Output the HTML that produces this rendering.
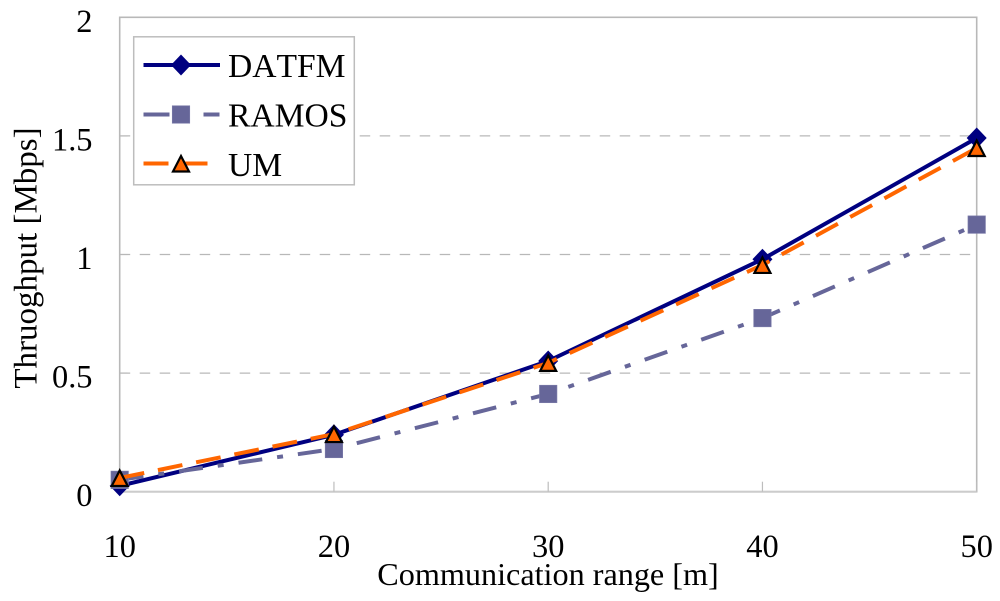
<!DOCTYPE html>
<html>
<head>
<meta charset="utf-8">
<title>Throughput vs communication range</title>
<style>
html,body{margin:0;padding:0;background:#fff;}
svg{display:block;filter:blur(0.35px);}
text{font-family:"Liberation Serif",serif;font-size:32.4px;fill:#000;font-kerning:none;}
</style>
</head>
<body>
<svg id="chart" xmlns="http://www.w3.org/2000/svg" width="1000" height="601" viewBox="0 0 1000 601">
  <rect x="119.7" y="17.3" width="857" height="474.4" fill="#fff" stroke="#b8b8b8" stroke-width="1.6"/>
  <g id="grid"></g>
  <line x1="119.7" y1="491.7" x2="976.7" y2="491.7" stroke="#cccccc" stroke-width="2"/>
  <g id="xticks"></g>
  <g id="ylabels"></g>
  <g id="xlabels"></g>
  <g id="series"></g>
  <text x="548" y="585" text-anchor="middle" style="font-size:32.2px">Communication range [m]</text>
  <text transform="translate(36.5,258) rotate(-90)" text-anchor="middle" style="font-size:33px">Thruoghput [Mbps]</text>
  <g id="legend">
    <rect x="133.7" y="36.8" width="220.6" height="148" fill="#fff" stroke="#bdbdbd" stroke-width="1.5"/>
  </g>
</svg>
<script>
const categories = [10, 20, 30, 40, 50];
const yTicks = [0, 0.5, 1, 1.5, 2];
const yTickLabels = ["0", "0.5", "1", "1.5", "2"];
const seriesNames = ["DATFM", "RAMOS", "UM"];
const datfmValues = [0.025, 0.24, 0.551, 0.98, 1.491];
const ramosValues = [0.05, 0.18, 0.412, 0.732, 1.126];
const umValues = [0.058, 0.243, 0.543, 0.956, 1.449];

const NS = 'http://www.w3.org/2000/svg';
const X0 = 119.7, X1 = 976.7, Y0 = 491.7, Y1 = 17.3;
function xScale(c) {
  return X0 + (c - categories[0]) / (categories[categories.length - 1] - categories[0]) * (X1 - X0);
}
function yScale(v) {
  return Y0 - v / 2 * (Y0 - Y1);
}
function make(tag, attrs, parent) {
  const el = document.createElementNS(NS, tag);
  for (const k in attrs) el.setAttribute(k, attrs[k]);
  parent.appendChild(el);
  return el;
}
function drawDiamond(x, y, parent) {
  return make('polygon', {points: (x-10)+','+y+' '+x+','+(y-10.5)+' '+(x+10)+','+y+' '+x+','+(y+10.5), fill: '#000080', stroke: 'none'}, parent);
}
function drawSquare(x, y, parent) {
  return make('rect', {x: x-8.7, y: y-8.7, width: 17.4, height: 17.4, fill: '#666699', stroke: '#7a7aa8', 'stroke-width': 0.7}, parent);
}
function drawTriangle(x, y, parent) {
  return make('polygon', {points: (x-8)+','+(y+8)+' '+x+','+(y-7.5)+' '+(x+8)+','+(y+8), fill: '#ff6600', stroke: '#000', 'stroke-width': 2.2}, parent);
}

const styles = [
  {values: datfmValues, color: '#000080', dash: '', marker: drawDiamond, key: 'datfm'},
  {values: ramosValues, color: '#666699', dash: '24 15 6 15', marker: drawSquare, key: 'ramos'},
  {values: umValues, color: '#ff6600', dash: '25 14', marker: drawTriangle, key: 'um'}
];

const grid = document.getElementById('grid');
yTicks.forEach(function (t) {
  if (t === 0 || t === 2) return;
  const g = make('line', {x1: X0, x2: X1, y1: yScale(t), y2: yScale(t), stroke: '#b8b8b8', 'stroke-width': 1.3, 'stroke-dasharray': '10.5 9.5'}, grid);
  
  
});

const xticks = document.getElementById('xticks');
const xlabels = document.getElementById('xlabels');
categories.forEach(function (c) {
  const x = xScale(c);
  const tk = make('line', {x1: x, x2: x, y1: Y0 - 10, y2: Y0, stroke: '#bdbdbd', 'stroke-width': 1.2}, xticks);
  
  
  const lb = make('text', {x: x, y: 557, 'text-anchor': 'middle'}, xlabels);
  lb.textContent = String(c);
  
  
});

const ylabels = document.getElementById('ylabels');
yTicks.forEach(function (t, i) {
  const lb = make('text', {x: 92.5, y: yScale(t) + 14.5, 'text-anchor': 'end'}, ylabels);
  lb.textContent = yTickLabels[i];
  
  
});

const seriesGroup = document.getElementById('series');
styles.forEach(function (s) {
  const group = make('g', {}, seriesGroup);
  
  
  const pts = s.values.map(function (v, i) { return xScale(categories[i]) + ',' + yScale(v); }).join(' ');
  const line = make('polyline', {points: pts, fill: 'none', stroke: s.color, 'stroke-width': 4, 'stroke-linejoin': 'round'}, group);
  if (s.dash) line.setAttribute('stroke-dasharray', s.dash);
  
  
  s.values.forEach(function (v, i) {
    const m = s.marker(xScale(categories[i]), yScale(v), group);
    
    
  });
});

const legend = document.getElementById('legend');
const legendRows = [65, 114.5, 163.5];
const legendBase = [77, 126.5, 176];
styles.forEach(function (s, i) {
  const y = legendRows[i];
  const entry = make('g', {}, legend);
  
  
  const ln = make('line', {x1: 143.5, x2: 220, y1: y, y2: y, stroke: s.color, 'stroke-width': 4}, entry);
  if (i === 1) ln.setAttribute('stroke-dasharray', '26 34 16 5');
  if (i === 2) {
    ln.setAttribute('x2', '208');
    ln.setAttribute('stroke-dasharray', '25 14 25');
  }
  
  
  const mk = s.marker(181, y, entry);
  
  
  const tx = make('text', {x: 228, y: legendBase[i]}, entry);
  tx.textContent = seriesNames[i];
  tx.setAttribute('style', 'font-size:33.6px');
  
  
});
</script>
</body>
</html>
